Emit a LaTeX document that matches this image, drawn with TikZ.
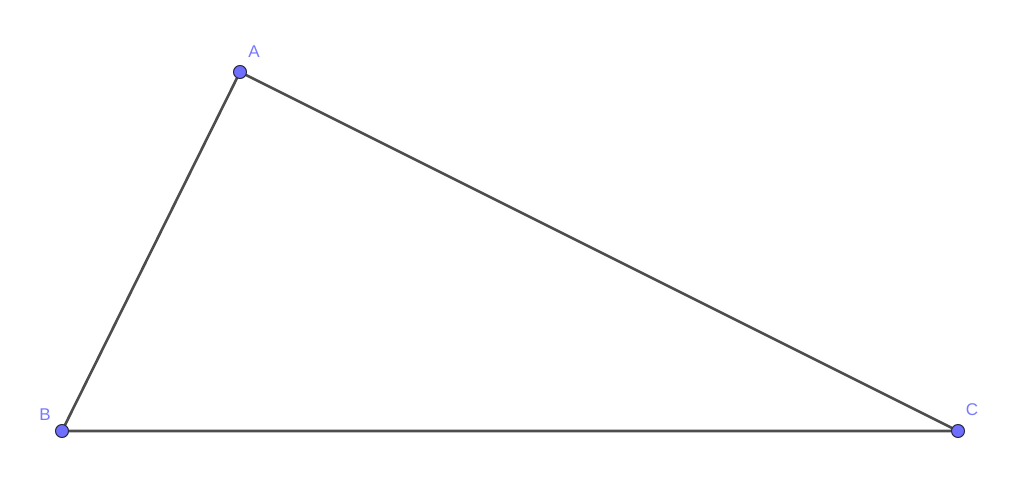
\documentclass[tikz,border=0pt]{standalone}
\usepackage{fontspec}
\setmainfont{Liberation Sans}
\definecolor{ptfill}{RGB}{110,110,255}
\definecolor{ptline}{RGB}{40,40,60}
\definecolor{lbl}{RGB}{120,120,255}
\definecolor{edge}{RGB}{77,77,77}
\begin{document}
\begin{tikzpicture}[x=1pt,y=-1pt,
  pt/.style={circle,fill=ptfill,draw=ptline,line width=1pt,inner sep=0pt,minimum size=13pt},
  lab/.style={text=lbl,font=\fontsize{17}{17}\selectfont,inner sep=0pt},
  side/.style={draw=edge,line width=2.6pt}]
\useasboundingbox (0,0) rectangle (1024,484);
\coordinate (A) at (240,72);
\coordinate (B) at (62,431);
\coordinate (C) at (958,431);
\draw[side,line join=round] (A) -- (B) -- (C) -- cycle;
\node[pt] (pA) at (A) {};
\node[pt] (pB) at (B) {};
\node[pt] (pC) at (C) {};
\node[lab] (lA) at (254,52) {A};
\node[lab] (lB) at (45,415) {B};
\node[lab] (lC) at (972,410) {C};
\end{tikzpicture}
\end{document}
